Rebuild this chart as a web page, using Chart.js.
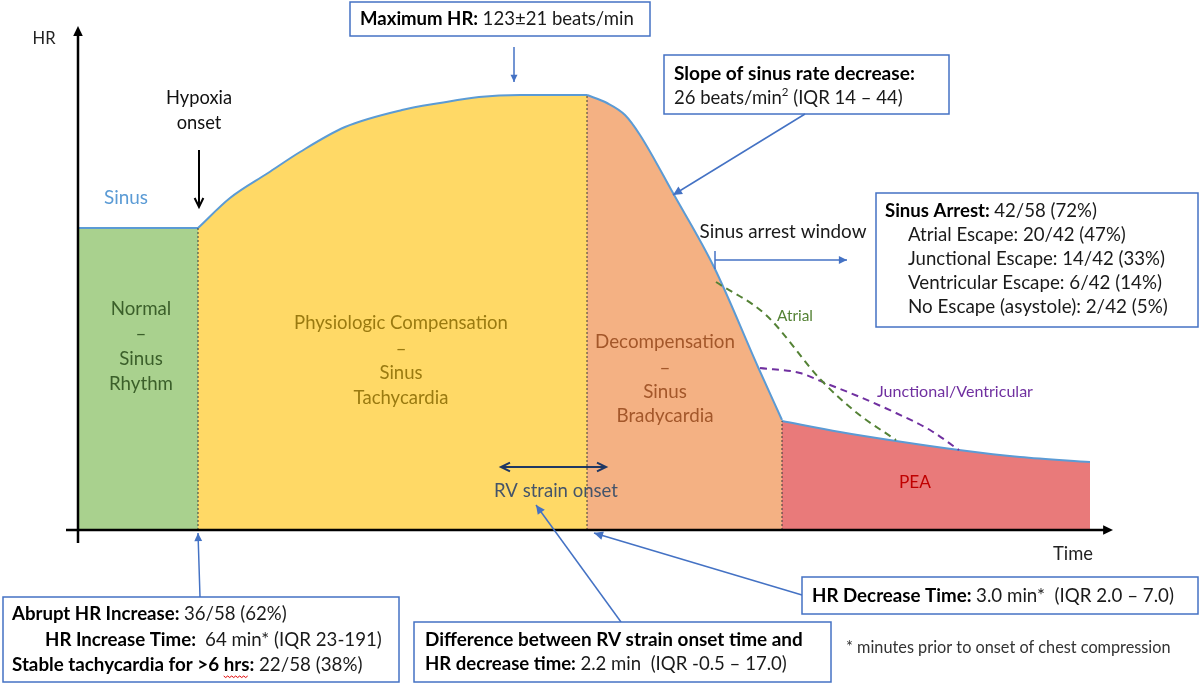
<!DOCTYPE html>
<html>
<head>
<meta charset="utf-8">
<script src="https://cdn.jsdelivr.net/npm/chart.js@4/dist/chart.umd.min.js"></script>
<style>
  html, body { margin: 0; padding: 0; background: #fff; }
</style>
</head>
<body>
<canvas id="hr" width="1200" height="684"></canvas>
<script>
// Schematic HR course (time and HR in arbitrary units)
const normalTime = [0, 12];
const normalHR = [60.4, 60.4];
const compTime = [12, 15.2, 19, 22.2, 26.7, 32.4, 36.2, 40.1, 44.2, 50.9];
const compHR = [60.4, 66.4, 71.4, 75.6, 80.6, 84, 85.4, 86.6, 87, 87];
const decompTime = [50.9, 52.9, 54.7, 56.2, 59.5, 63.6, 68, 70.4];
const decompHR = [87, 85.4, 83, 79, 67.4, 52.6, 32.6, 22];
const peaTime = [70.4, 76.2, 81.8, 88.1, 94.2, 101.2];
const peaHR = [21.8, 19.6, 17.8, 16, 14.6, 13.6];
const atrialTime = [63.8, 68.8, 74.3, 77.9, 81.8];
const atrialHR = [49.6, 43, 30, 23.4, 18];
const junctTime = [68.2, 72.2, 74.7, 78.2, 81.8, 85.2, 88.1];
const junctHR = [32.4, 31.4, 29.4, 26.6, 23.4, 20, 16];
const phaseBounds = [12, 50.9, 70.4];
const boundHR = [60.4, 87, 21.8];

const pts = (xs, ys) => xs.map((x, i) => ({ x, y: ys[i] }));

const FONT = 'Lato, "Open Sans", sans-serif';
const BLUE = '#4472C4';

function seg(ctx, x1, y1, x2, y2, color, w, dash) {
  ctx.save();
  ctx.strokeStyle = color;
  ctx.lineWidth = w;
  ctx.setLineDash(dash || []);
  ctx.beginPath();
  ctx.moveTo(x1, y1);
  ctx.lineTo(x2, y2);
  ctx.stroke();
  ctx.restore();
}

function head(ctx, x1, y1, x2, y2, color, size, open, w) {
  const a = Math.atan2(y2 - y1, x2 - x1);
  const p1 = [x2 - size * Math.cos(a - 0.45), y2 - size * Math.sin(a - 0.45)];
  const p2 = [x2 - size * Math.cos(a + 0.45), y2 - size * Math.sin(a + 0.45)];
  ctx.save();
  ctx.beginPath();
  ctx.moveTo(p1[0], p1[1]);
  ctx.lineTo(x2, y2);
  ctx.lineTo(p2[0], p2[1]);
  if (open) {
    ctx.strokeStyle = color;
    ctx.lineWidth = w || 2;
    ctx.stroke();
  } else {
    ctx.closePath();
    ctx.fillStyle = color;
    ctx.fill();
  }
  ctx.restore();
}

function arrow(ctx, x1, y1, x2, y2, color, w, size, open) {
  seg(ctx, x1, y1, x2, y2, color, w);
  head(ctx, x1, y1, x2, y2, color, size, open, w);
}

// font size that makes a run of [text, bold] parts span `width` pixels
function fitSize(ctx, parts, width) {
  let w = 0;
  parts.forEach(([t, bold]) => {
    ctx.font = (bold ? 'bold ' : '') + '100px ' + FONT;
    w += ctx.measureText(t).width;
  });
  return 100 * width / w;
}

// draws parts left to right; `size` is either a number (px) or {fit: width}
function rich(ctx, x, y, parts, width, fixedSize) {
  const size = fixedSize || fitSize(ctx, parts, width);
  let cx = x;
  ctx.textAlign = 'left';
  ctx.textBaseline = 'middle';
  parts.forEach(([t, bold, color, sup]) => {
    const s = sup ? size * 0.62 : size;
    ctx.font = (bold ? 'bold ' : '') + s + 'px ' + FONT;
    ctx.fillStyle = color || (bold ? '#000' : '#1a1a1a');
    ctx.fillText(t, cx, sup ? y - size * 0.32 : y);
    cx += ctx.measureText(t).width;
  });
  return size;
}

// centred block; font sized so that `refLine` spans `width`
function centered(ctx, x, ys, lines, refLine, width, color) {
  const size = fitSize(ctx, [[refLine, false]], width);
  ctx.font = size + 'px ' + FONT;
  ctx.fillStyle = color;
  ctx.textAlign = 'center';
  ctx.textBaseline = 'middle';
  lines.forEach((t, i) => ctx.fillText(t, x, ys[i]));
}

function box(ctx, x, y, w, h) {
  ctx.save();
  ctx.fillStyle = '#fff';
  ctx.fillRect(x, y, w, h);
  ctx.strokeStyle = BLUE;
  ctx.lineWidth = 1.5;
  ctx.strokeRect(x, y, w, h);
  ctx.restore();
}

const annotations = {
  id: 'annotations',
  afterDatasetsDraw(chart) {
    const ctx = chart.ctx;
    const xs = chart.scales.x, ys = chart.scales.y;
    const x0 = xs.getPixelForValue(0), y0 = ys.getPixelForValue(0);

    // axes
    seg(ctx, x0, y0 + 13, x0, 34, '#000', 2.5);
    head(ctx, x0, 60, x0, 26, '#000', 11, false);
    seg(ctx, x0 - 12, y0, 1104, y0, '#000', 2.5);
    head(ctx, 1080, y0, 1113, y0, '#000', 11, false);
    centered(ctx, 44, [39], ['HR'], 'HR', 23, '#222');
    centered(ctx, 1073, [554], ['Time'], 'Time', 40, '#222');

    // phase labels
    centered(ctx, 141, [309, 334, 359, 384], ['Normal', '–', 'Sinus', 'Rhythm'], 'Rhythm', 64, '#3B5F2A');
    centered(ctx, 401, [323, 349, 373, 398], ['Physiologic Compensation', '–', 'Sinus', 'Tachycardia'], 'Physiologic Compensation', 214, '#9A7A10');
    centered(ctx, 665, [342, 368, 392, 416], ['Decompensation', '–', 'Sinus', 'Bradycardia'], 'Decompensation', 140, '#A3572A');
    centered(ctx, 915, [482], ['PEA'], 'PEA', 32, '#C00000');
    centered(ctx, 126, [198], ['Sinus'], 'Sinus', 44, '#5B9BD5');
    centered(ctx, 795, [316], ['Atrial'], 'Atrial', 36, '#548235');
    centered(ctx, 955, [392], ['Junctional/Ventricular'], 'Junctional/Ventricular', 156, '#7030A0');

    // hypoxia onset
    centered(ctx, 199, [98, 123], ['Hypoxia', 'onset'], 'Hypoxia', 66, '#111');
    arrow(ctx, 199, 150, 199, 207, '#000', 2, 10, true);

    // RV strain onset
    seg(ctx, 501, 467, 606, 467, '#1F3864', 2);
    head(ctx, 530, 467, 501, 467, '#1F3864', 10, true, 2);
    head(ctx, 580, 467, 606, 467, '#1F3864', 10, true, 2);
    centered(ctx, 556, [491], ['RV strain onset'], 'RV strain onset', 124, '#44546A');

    // Maximum HR
    box(ctx, 350, 2, 300, 34);
    rich(ctx, 360, 19, [['Maximum HR: ', true], ['123±21 beats/min', false]], 274);
    arrow(ctx, 514, 47, 514, 82, BLUE, 1.5, 8, false);

    // slope box
    box(ctx, 664, 55, 285, 59);
    rich(ctx, 674, 74, [['Slope of sinus rate decrease:', true]], 241);
    const s2 = fitSize(ctx, [['26 beats/min (IQR 14 – 44)', false]], 222);
    rich(ctx, 674, 98, [['26 beats/min', false], ['2', false, null, true], [' (IQR 14 – 44)', false]], 0, s2);
    arrow(ctx, 805, 114, 673, 195, BLUE, 1.5, 10, false);

    // sinus arrest window
    centered(ctx, 783, [232], ['Sinus arrest window'], 'Sinus arrest window', 167, '#1a1a1a');
    seg(ctx, 715, 251, 715, 269, BLUE, 1.5);
    arrow(ctx, 715, 260, 847, 260, BLUE, 1.5, 9, false);

    // sinus arrest box
    box(ctx, 876, 193, 322, 134);
    rich(ctx, 885, 211, [['Sinus Arrest: ', true], ['42/58 (72%)', false]], 212);
    rich(ctx, 908, 235, [['Atrial Escape: 20/42 (47%)', false]], 218);
    rich(ctx, 908, 259, [['Junctional Escape: 14/42 (33%)', false]], 257);
    rich(ctx, 908, 283, [['Ventricular Escape: 6/42 (14%)', false]], 254);
    rich(ctx, 908, 307, [['No Escape (asystole): 2/42 (5%)', false]], 260);

    // bottom-left box
    arrow(ctx, 200, 597, 198, 533, BLUE, 1.5, 9, false);
    box(ctx, 3, 597, 396, 85);
    rich(ctx, 12, 614, [['Abrupt HR Increase: ', true], ['36/58 (62%)', false]], 275);
    rich(ctx, 45, 640, [['HR Increase Time:  ', true], ['64 min* (IQR 23-191)', false]], 337);
    const l3 = [['Stable tachycardia for >6 hrs: ', true], ['22/58 (38%)', false]];
    const s3 = rich(ctx, 12, 665, l3, 351);
    ctx.font = 'bold ' + s3 + 'px ' + FONT;
    const hx = 12 + ctx.measureText('Stable tachycardia for >6 ').width;
    const hw = ctx.measureText('hrs').width;
    ctx.save();
    ctx.strokeStyle = '#E00000';
    ctx.lineWidth = 1;
    ctx.beginPath();
    for (let i = 0; i <= hw; i += 2) {
      const yy = 676 + (i % 4 === 0 ? 0 : 1.5);
      if (i === 0) ctx.moveTo(hx + i, yy); else ctx.lineTo(hx + i, yy);
    }
    ctx.stroke();
    ctx.restore();

    // middle bottom box
    arrow(ctx, 621, 622, 536, 505, BLUE, 1.5, 10, false);
    box(ctx, 414, 622, 417, 60);
    rich(ctx, 425, 640, [['Difference between RV strain onset time and', true]], 378);
    rich(ctx, 425, 664, [['HR decrease time: ', true], ['2.2 min  (IQR -0.5 – 17.0)', false]], 362);

    // HR decrease box
    arrow(ctx, 802, 595, 594, 533, BLUE, 1.5, 10, false);
    box(ctx, 802, 577, 396, 37);
    rich(ctx, 812, 596, [['HR Decrease Time: ', true], ['3.0 min*  (IQR 2.0 – 7.0)', false]], 362);

    rich(ctx, 846, 648, [['* minutes prior to onset of chest compression', false, '#333']], 325);
  }
};

const fillSet = (label, xs, ys, color) => ({
  label,
  data: pts(xs, ys),
  backgroundColor: color,
  borderColor: '#5B9BD5',
  borderWidth: 2,
  fill: 'origin',
  pointRadius: 0,
  cubicInterpolationMode: 'monotone',
  order: 3
});

const dashSet = (label, xs, ys, color) => ({
  label,
  data: pts(xs, ys),
  borderColor: color,
  borderWidth: 2,
  borderDash: [7, 5],
  fill: false,
  pointRadius: 0,
  cubicInterpolationMode: 'monotone',
  order: 1
});

const boundSets = phaseBounds.map((x, i) => ({
  label: 'bound' + i,
  data: [{ x, y: 0 }, { x, y: boundHR[i] }],
  borderColor: '#3a3a3a',
  borderWidth: 1,
  borderDash: [2, 2],
  fill: false,
  pointRadius: 0,
  order: 2
}));

new Chart(document.getElementById('hr'), {
  type: 'line',
  data: {
    datasets: [
      fillSet('Normal', normalTime, normalHR, '#A9D18E'),
      fillSet('Compensation', compTime, compHR, '#FFD966'),
      fillSet('Decompensation', decompTime, decompHR, '#F4B183'),
      fillSet('PEA', peaTime, peaHR, '#E97A7A'),
      dashSet('Atrial', atrialTime, atrialHR, '#548235'),
      dashSet('Junctional/Ventricular', junctTime, junctHR, '#7030A0'),
      ...boundSets
    ]
  },
  options: {
    responsive: false,
    animation: false,
    layout: { padding: { left: 78, right: 102, top: 30, bottom: 154 } },
    scales: {
      x: { type: 'linear', min: 0, max: 102, display: false },
      y: { min: 0, max: 100, display: false }
    },
    plugins: {
      legend: { display: false },
      tooltip: { enabled: false }
    }
  },
  plugins: [annotations]
});
</script>
</body>
</html>
